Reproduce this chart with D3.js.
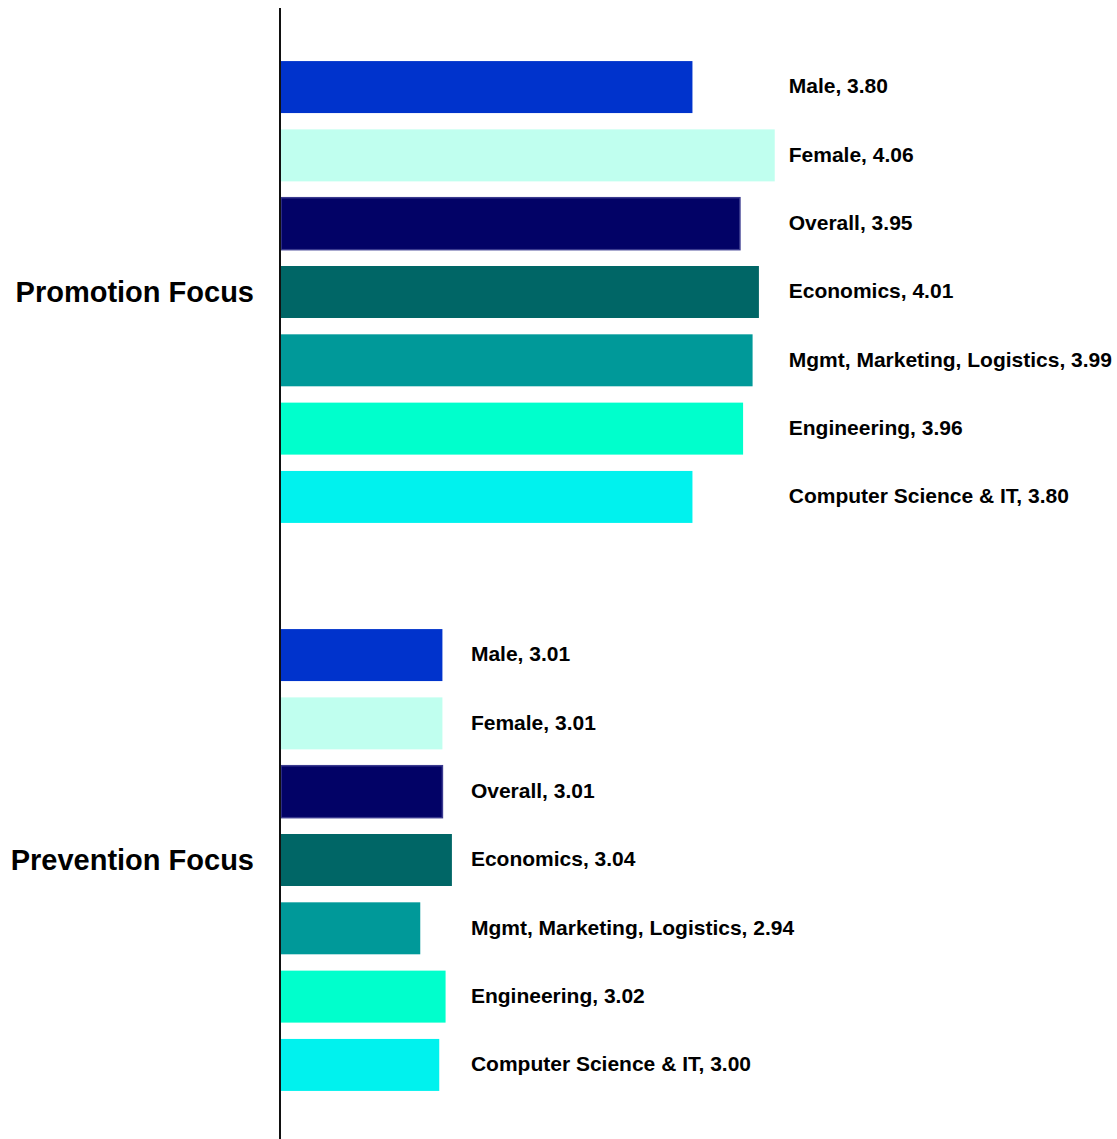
<!DOCTYPE html>
<html>
<head>
<meta charset="utf-8">
<script src="https://cdn.jsdelivr.net/npm/d3@7"></script>
<style>
  html, body { margin: 0; padding: 0; background: #fff; }
  svg { display: block; font-family: "Liberation Sans", Arial, sans-serif; }
</style>
</head>
<body>
<svg id="chart" width="1117" height="1139"></svg>
<script>
// Regulatory focus scores by group
const groups = ["Promotion Focus", "Prevention Focus"];
const categories = ["Male", "Female", "Overall", "Economics", "Mgmt, Marketing, Logistics", "Engineering", "Computer Science & IT"];
const promotionValues = [3.80, 4.06, 3.95, 4.01, 3.99, 3.96, 3.80];
const preventionValues = [3.01, 3.01, 3.01, 3.04, 2.94, 3.02, 3.00];
const seriesValues = [promotionValues, preventionValues];
const colors = ["#0033CC", "#C0FFEF", "#020266", "#006666", "#009999", "#00FFCC", "#00F2EE"];

const svg = d3.select("#chart");

const x = d3.scaleLinear().domain([2.5, 4.5]).range([281, 914]);

const yGroup = d3.scaleBand().domain(groups).range([8, 1144]);
const yBar = d3.scaleBand().domain(categories)
  .range([0, yGroup.bandwidth()])
  .paddingInner(0.239).paddingOuter(0.777);

groups.forEach((g, gi) => {
  const vals = seriesValues[gi];
  const gy = yGroup(g);
  const layer = svg.append("g").attr("transform", `translate(0,${gy})`);

  layer.selectAll("rect")
    .data(categories.map((c, i) => ({ c, v: vals[i], color: colors[i] })))
    .join("rect")
    .attr("x", x(2.5))
    .attr("y", d => yBar(d.c))
    .attr("width", d => x(d.v) - x(2.5))
    .attr("height", yBar.bandwidth())
    .attr("fill", d => d.color)
    .attr("stroke", d => d.c === "Overall" ? "#3b3b8f" : "none")
    .attr("stroke-width", 1.5);

  // value labels sit in a column just past the longest bar of each group
  const labelX = x(d3.max(vals)) + (gi === 0 ? 14 : 19);
  layer.selectAll("text.val")
    .data(categories.map((c, i) => ({ c, v: vals[i] })))
    .join("text")
    .attr("class", "val")
    .attr("x", labelX)
    .attr("y", d => yBar(d.c) + yBar.bandwidth() / 2)
    .attr("dy", "0.3em")
    .attr("font-size", 21)
    .attr("font-weight", "bold")
    .attr("fill", "#000")
    .text(d => `${d.c}, ${d.v.toFixed(2)}`);

  svg.append("text")
    .attr("x", 254)
    .attr("y", gy + yGroup.bandwidth() / 2)
    .attr("dy", "0.35em")
    .attr("text-anchor", "end")
    .attr("font-size", 29)
    .attr("font-weight", "bold")
    .attr("fill", "#000")
    .text(g);
});

// Category axis line
svg.append("line")
  .attr("x1", 280).attr("x2", 280)
  .attr("y1", 8).attr("y2", 1139)
  .attr("stroke", "#111").attr("stroke-width", 2);
</script>
</body>
</html>
